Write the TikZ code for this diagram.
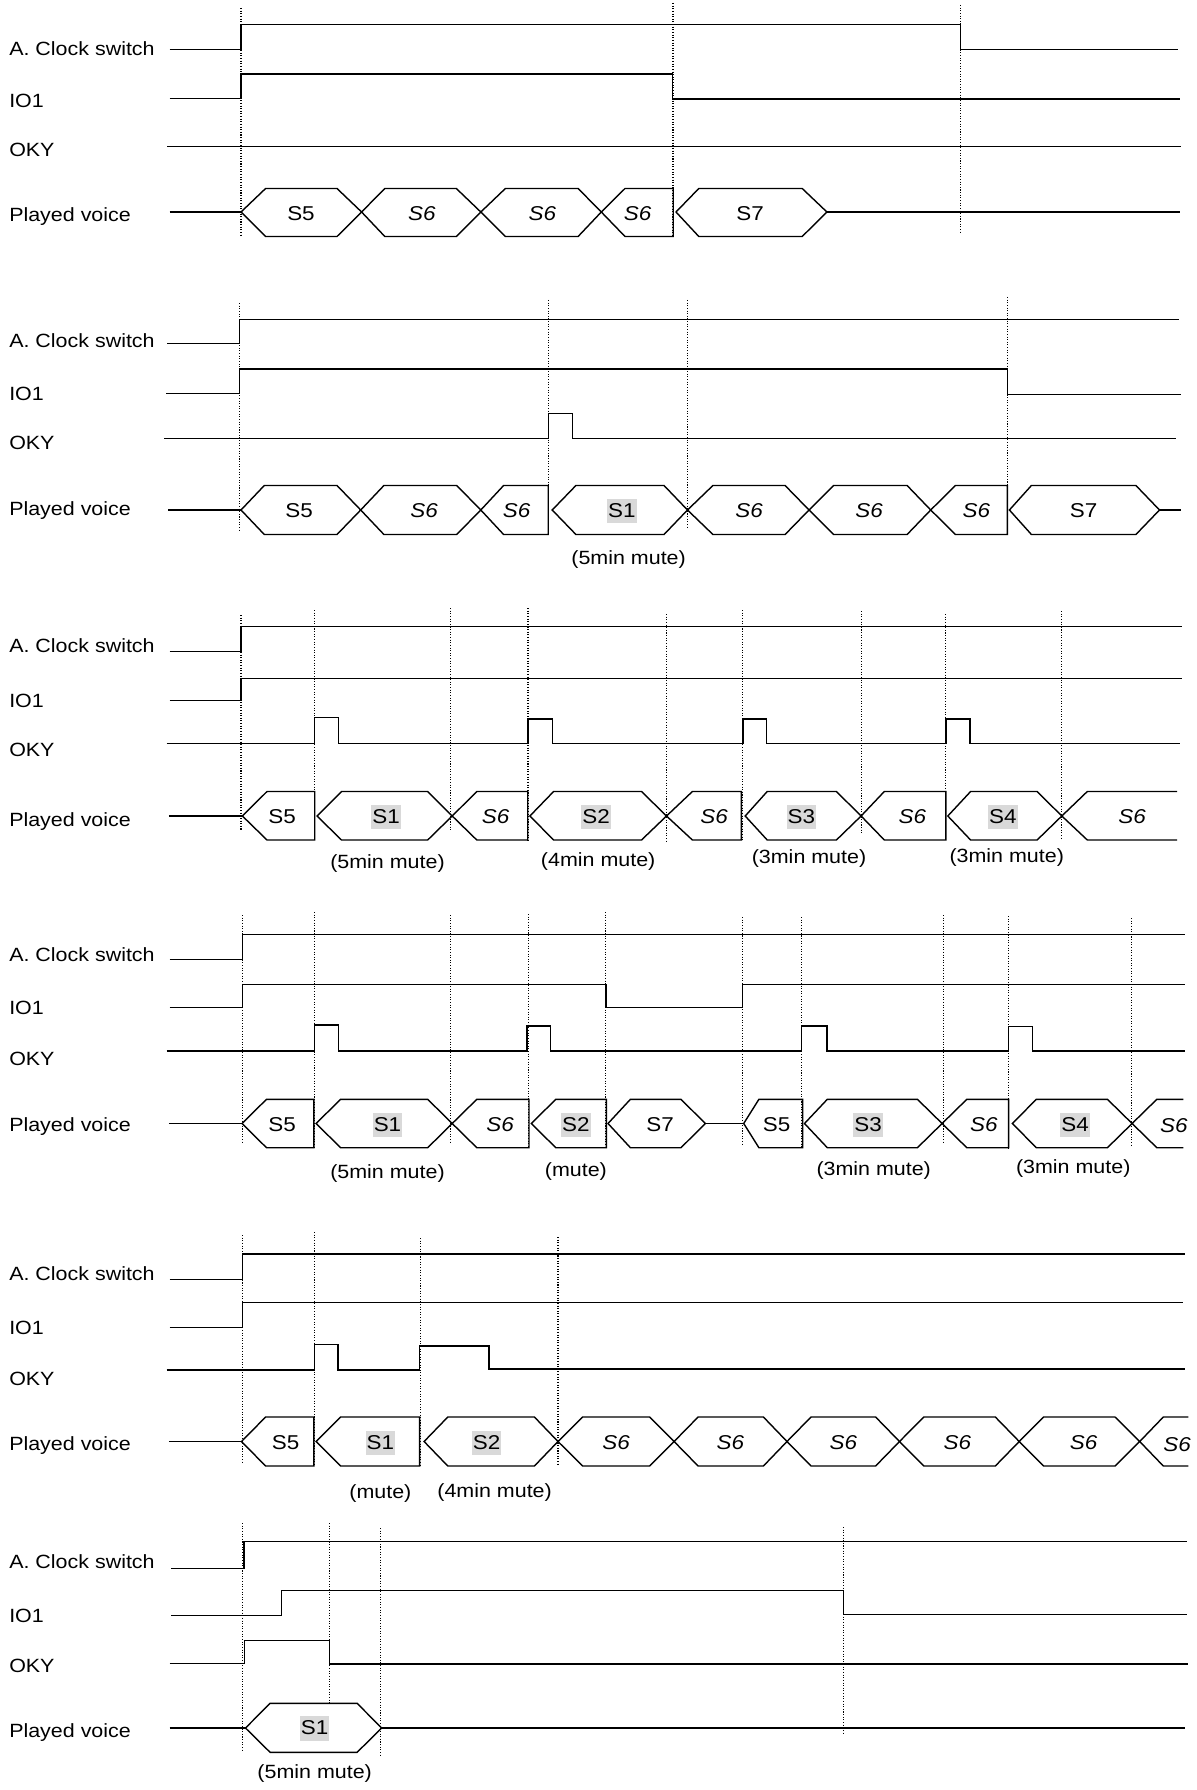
\documentclass[tikz,border=0pt]{standalone}
\usepackage{fontspec}
\setmainfont{Liberation Sans}[FakeStretch=1.12]
\usepackage{tikz}
\usetikzlibrary{positioning}

\begin{document}
\begin{tikzpicture}[x=0.02cm,y=-0.02cm,
  sig/.style={line width=0.8pt},
  guide/.style={line width=0.6pt,dash pattern=on 0.6pt off 0.9pt},
  rowlbl/.style={anchor=base west,inner sep=0pt,font=\fontsize{10.9}{13}\selectfont},
  vup/.style={inner sep=0pt,font=\fontsize{11.4}{13}\selectfont},
  vit/.style={vup,font=\fontsize{11.4}{13}\selectfont\itshape},
  vhl/.style={vup,fill=gray!30,inner xsep=0.6pt,inner ysep=0pt,text height=10.7pt,text depth=3.2pt},
  mute/.style={inner sep=0pt,font=\fontsize{10.9}{13}\selectfont}]
\useasboundingbox (0,0) rectangle (1196,1790);

% row labels
\foreach \p/\ya/\yb/\yc/\yd in {1/56/107.3/156.7/221.7,2/347.7/400.7/450/516,
  3/652.7/707.3/756.7/826,4/961/1014.3/1065/1131,5/1280.7/1334.3/1385/1450,
  6/1568.7/1622.7/1672.3/1737.3}
{
  \node[rowlbl] (ck\p) at (8.9,\ya) {A. Clock switch};
  \node[rowlbl] (io\p) at (8.9,\yb) {IO1};
  \node[rowlbl] (oky\p) at (8.9,\yc) {OKY};
  \node[rowlbl] (pv\p) at (8.9,\yd) {Played voice};
}

% dotted guides
\foreach \x/\ya/\yb in {241/8/236,673/3/236,960.3/5/233,
  239.7/303/530,548.2/300/534,687.5/300/528,1007.4/297/534,
  241/615/830,314.7/610/840,450.9/608/832,528/608/840,666.5/614/842,742.9/610/840,861.1/611/835,945.9/614/840,1061.8/611/840,
  242.4/915/1142,314.7/912/1148,450.9/915/1143,528.5/914/1148,605.8/912/1148,742.5/917/1145,801.4/917/1148,943.9/915/1143,1008.6/916/1148,1131.3/918/1147,
  242.4/1235/1462,314.7/1232/1466,420.1/1238/1466,558/1237/1465,
  242.9/1523/1750,329.5/1523/1703,380.8/1528/1756,843.3/1527/1734}
  {\draw[guide] (\x,\ya) -- (\x,\yb);}

% panel 1
\draw[sig] (169.6,49.3) -| (241,24.3) -| (960.3,49.3) -- (1177.7,49.3);
\draw[sig] (169.6,98.5) -| (241,74) -| (672.6,99) -- (1179.6,99);
\draw[sig] (167.4,146.7) -- (1180.8,146.7);
\draw[sig] (169.6,212) -- (241,212) (826.9,212) -- (1180,212);
\foreach \a/\b/\c/\d/\lx/\t/\s [count=\i] in {241/265.6/337/361.6/301/S5/vup,
  361.6/384.8/456.3/480.8/421.9/S6/vit,480.8/505.4/578.1/601.3/542.4/S6/vit,
  601.3/625/673.2/673.2/637.5/S6/vit,676/698.8/802.2/826.9/750.1/S7/vup}
{
  \draw[sig] (\a,212) -- (\b,188.5) -- (\c,188.5) -- (\d,212) -- (\c,236.5) -- (\b,236.5) -- cycle;
  \node[\s] (v1-\i) at (\lx,214) {\t};
}

% panel 2
\draw[sig] (167.4,343.3) -| (239.7,319.3) -- (1178.5,319.3);
\draw[sig] (166,393.5) -| (239.7,369) -| (1007.4,394.5) -- (1180.8,394.5);
\draw[sig] (164.3,438.7) -| (548.2,413.3) -| (572.3,438.7) -- (1175.8,438.7);
\draw[sig] (168.3,510) -- (241,510) (1159.5,510) -- (1180.8,510);
\foreach \a/\b/\c/\d/\lx/\t/\s [count=\i] in {241/264.3/337/360.7/299.1/S5/vup,
  360.7/383.9/456.7/480.8/424.1/S6/vit,480.8/503.6/548.2/548.2/516.5/S6/vit,
  552.2/575.9/664/687.5/621.9/S1/vhl,687.5/712.9/785.1/809/749/S6/vit,
  809/833.7/907.1/930.7/869.1/S6/vit,930.7/955.4/1007.4/1007.4/976.3/S6/vit,
  1009.4/1031.4/1135.9/1159.5/1083.5/S7/vup}
{
  \draw[sig] (\a,510) -- (\b,485.5) -- (\c,485.5) -- (\d,510) -- (\c,534.5) -- (\b,534.5) -- cycle;
  \node[\s] (v2-\i) at (\lx,511) {\t};
}
\node[mute] (m2a) at (628.6,559.3) {(5min mute)};

% panel 3
\draw[sig] (169.6,651.7) -| (241,626.7) -- (1181.5,626.7);
\draw[sig] (169.6,700.7) -| (241,678.3) -- (1181.5,678.3);
\draw[sig] (166.5,743.3) -| (314.7,717.5) -| (338.4,743.3) -| (528.1,719) -| (552.2,743.3)
  -| (742.9,719) -| (766.5,743.3) -| (945.9,719) -| (969.8,743.3) -- (1179.6,743.3);
\draw[sig] (168.8,816) -- (242.4,816);
\foreach \a/\b/\c/\d/\lx/\t/\s [count=\i] in {242.4/267/314.7/314.7/282.1/S5/vup,
  317/341.5/427.7/452.2/386.2/S1/vhl,452.2/476.8/527.7/527.7/495.5/S6/vit,
  529.9/553.6/641.5/666.5/596/S2/vhl,666.5/692.4/741.4/741.4/714/S6/vit,
  745.2/767.2/836.4/861.1/801.4/S3/vhl,861.1/884.3/945.9/945.9/912.4/S6/vit,
  947.8/970.6/1037.1/1061.8/1002.9/S4/vhl}
{
  \draw[sig] (\a,816) -- (\b,791.5) -- (\c,791.5) -- (\d,816) -- (\c,840) -- (\b,840) -- cycle;
  \node[\s] (v3-\i) at (\lx,817) {\t};
}
\draw[sig] (1177,791.5) -- (1087.3,791.5) -- (1061.8,816) -- (1087.3,840) -- (1177,840);
\node[vit] (v3-9) at (1132.1,817) {S6};
\node[mute] (m3a) at (387.5,864) {(5min mute)};
\node[mute] (m3b) at (598.2,861.7) {(4min mute)};
\node[mute] (m3c) at (809,858.3) {(3min mute)};
\node[mute] (m3d) at (1006.7,858) {(3min mute)};

% panel 4
\draw[sig] (169.6,959.3) -| (242.4,934.3) -- (1185.3,934.3);
\draw[sig] (169.6,1007.7) -| (242.4,984.3) -| (605.8,1007.7) -| (742.5,984.3) -- (1185.3,984.3);
\draw[sig] (166.5,1051) -| (314.7,1025) -| (338.4,1051) -| (526.8,1026) -| (550.4,1051)
  -| (801.4,1026) -| (826.9,1051) -| (1008.6,1026.5) -| (1032.5,1051) -- (1185.3,1051);
\draw[sig] (168.8,1123.5) -- (242,1123.5) (705.3,1123.5) -- (743.7,1123.5);
\foreach \a/\b/\c/\d/\lx/\t/\s [count=\i] in {242/266.5/313.8/313.8/282.1/S5/vup,
  316.1/340.6/427.7/452.2/387.5/S1/vhl,452.2/476.8/529/529/500/S6/vit,
  531.3/555.8/606.3/606.3/575.9/S2/vhl,608/630.4/681/705.3/660/S7/vup,
  743.7/758.9/802.6/802.6/776.7/S5/vup,804.5/827.3/917.4/942.1/868/S3/vhl,
  942.1/966.8/1008.6/1008.6/983.9/S6/vit,1012.4/1036.3/1107.4/1132.1/1075.1/S4/vhl}
{
  \draw[sig] (\a,1123.5) -- (\b,1099.3) -- (\c,1099.3) -- (\d,1123.5) -- (\c,1147.7) -- (\b,1147.7) -- cycle;
  \node[\s] (v4-\i) at (\lx,1125) {\t};
}
\draw[sig] (1183.4,1099.3) -- (1156.8,1099.3) -- (1132.1,1123.5) -- (1156.8,1147.7) -- (1183.4,1147.7);
\node[vit] (v4-10) at (1173.9,1126) {S6};
\node[mute] (m4a) at (387.5,1174) {(5min mute)};
\node[mute] (m4b) at (575.9,1171.7) {(mute)};
\node[mute] (m4c) at (873.7,1170.7) {(3min mute)};
\node[mute] (m4d) at (1073.2,1168.3) {(3min mute)};

% panel 5
\draw[sig] (169.6,1279.3) -| (242.4,1254) -- (1184.6,1254);
\draw[sig] (169.6,1327.7) -| (242.4,1302.7) -- (1183.4,1302.7);
\draw[sig] (166.5,1370) -| (314.7,1344.5) -| (337.9,1370) -| (419.6,1346) -| (488.8,1369) -- (1185.3,1369);
\draw[sig] (168.8,1441.5) -- (241.5,1441.5);
\foreach \a/\b/\c/\d/\lx/\t/\s [count=\i] in {241.5/265.6/313.8/313.8/285.7/S5/vup,
  316.1/340.6/419.6/419.6/380.4/S1/vhl,424.1/447.8/534.4/558/486.6/S2/vhl,
  558/582.6/649.6/674.1/616.1/S6/vit,674.1/698.1/763.4/787/730.4/S6/vit,
  787/811/875.6/899.5/843.3/S6/vit,899.5/923.8/995.3/1019.2/957.3/S6/vit,
  1019.2/1043.6/1115/1139.7/1083.5/S6/vit}
{
  \draw[sig] (\a,1441.5) -- (\b,1417) -- (\c,1417) -- (\d,1441.5) -- (\c,1466) -- (\b,1466) -- cycle;
  \node[\s] (v5-\i) at (\lx,1443) {\t};
}
\draw[sig] (1188.4,1417) -- (1163.3,1417) -- (1139.7,1441.5) -- (1163.3,1466) -- (1188.4,1466);
\node[vit] (v5-9) at (1177,1445) {S6};
\node[mute] (m5a) at (380.4,1493.3) {(mute)};
\node[mute] (m5b) at (494.6,1492.7) {(4min mute)};

% panel 6
\draw[sig] (171,1568.7) -| (243.8,1541.7) -- (1187.2,1541.7);
\draw[sig] (171,1615.5) -| (281.3,1590.7) -| (843.3,1614.5) -- (1187.2,1614.5);
\draw[sig] (169.6,1663.5) -| (244.6,1640.7) -| (329.5,1664) -- (1188.4,1664);
\draw[sig] (169.6,1728) -- (245.5,1728) (381.7,1728) -- (1185.3,1728);
\draw[sig] (245.5,1728) -- (270.1,1703.3) -- (357.1,1703.3) -- (381.7,1728) -- (357.1,1752.3) -- (270.1,1752.3) -- cycle;
\node[vhl] (v6-1) at (314.7,1728.3) {S1};
\node[mute] (m6a) at (314.7,1773.3) {(5min mute)};
\end{tikzpicture}
\end{document}
